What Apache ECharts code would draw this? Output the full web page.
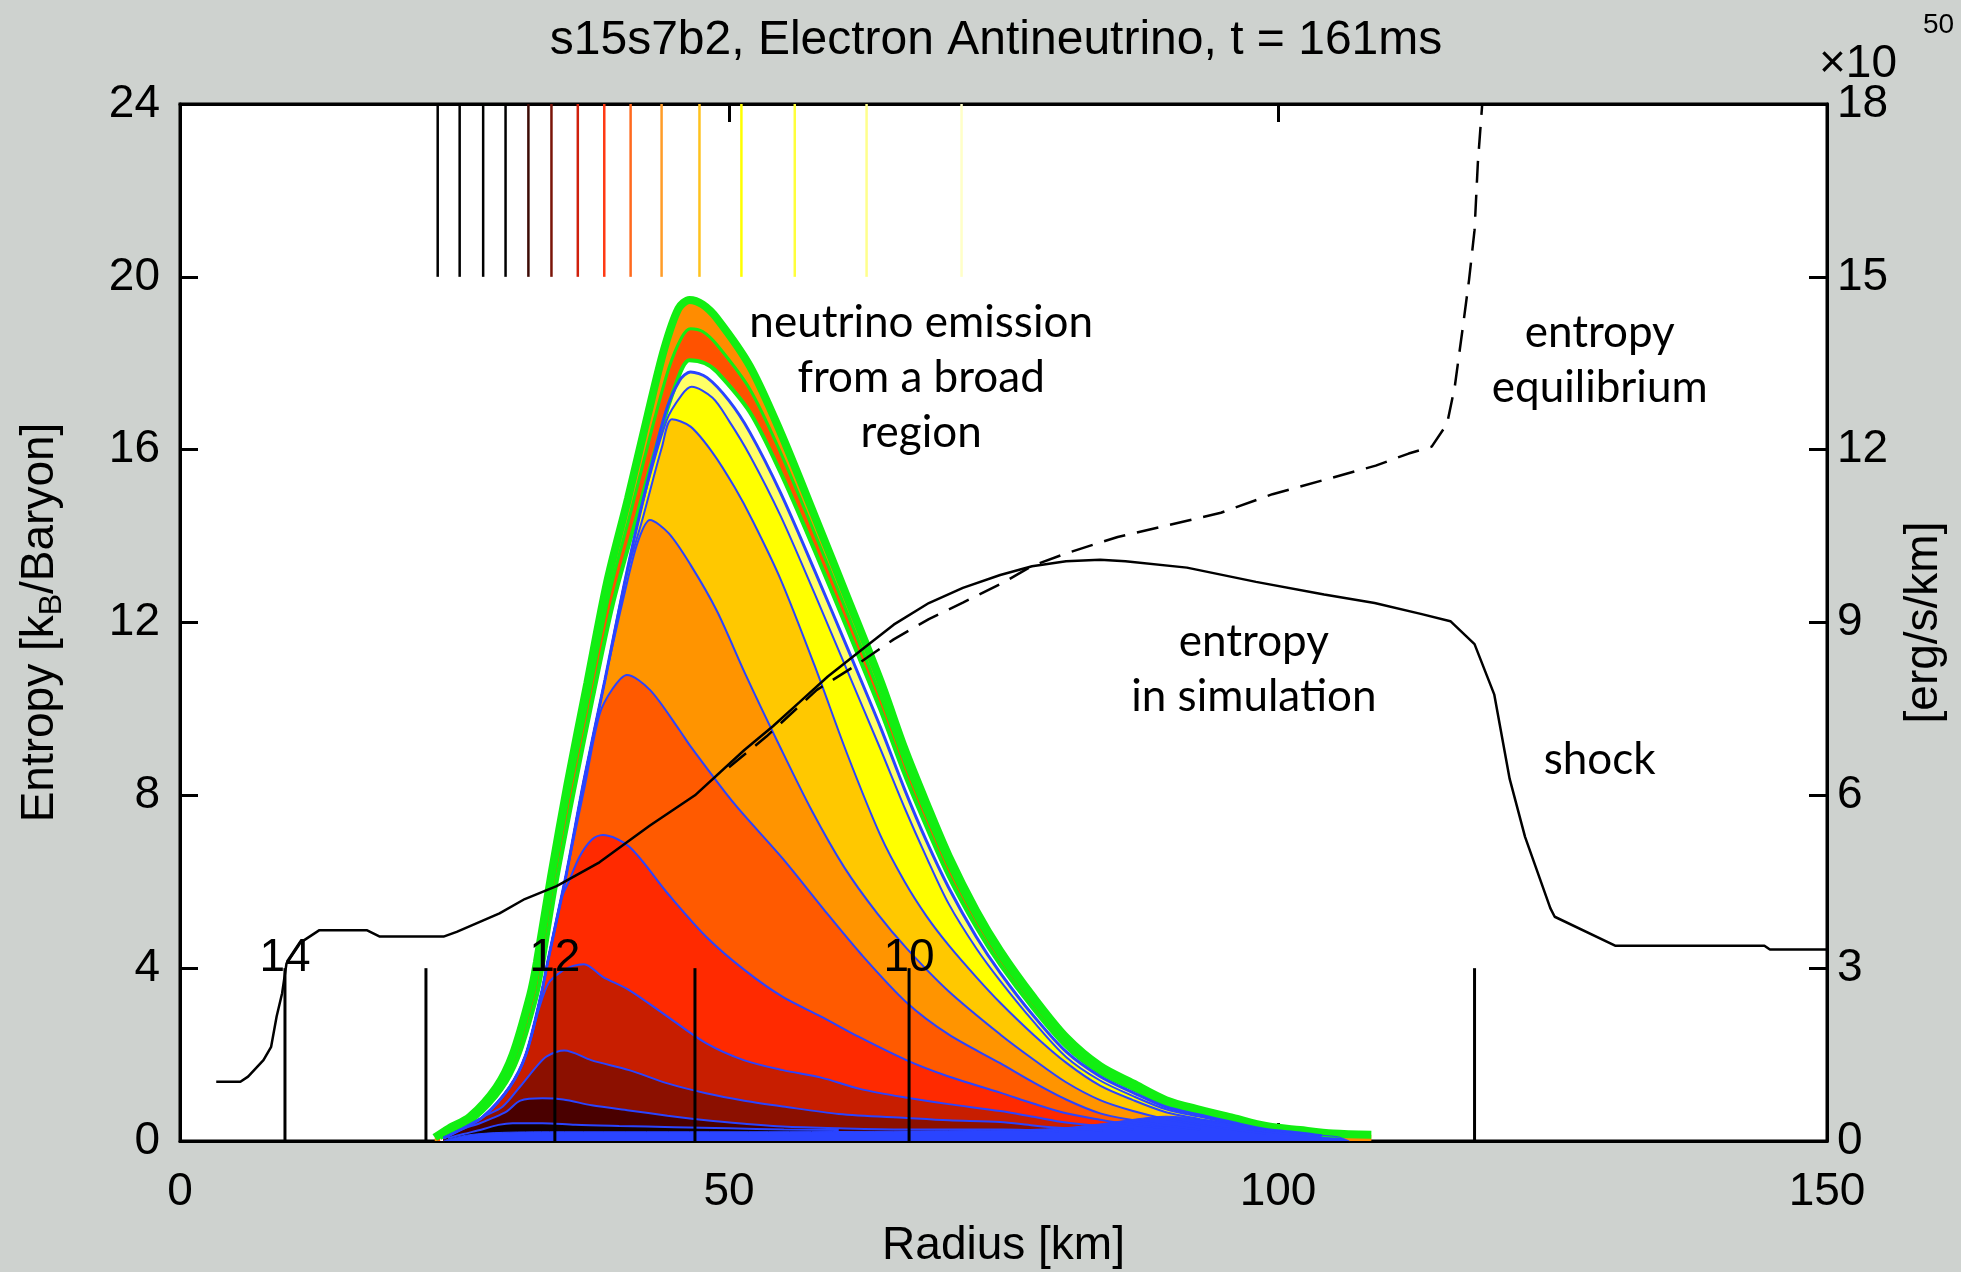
<!DOCTYPE html>
<html>
<head>
<meta charset="utf-8">
<script src="https://cdn.jsdelivr.net/npm/echarts@6/dist/echarts.min.js"></script>
<style>
  html, body { margin: 0; padding: 0; background: #ced2cf; }
  #chart { width: 1961px; height: 1272px; }
</style>
</head>
<body>
<div id="chart"></div>
<script>
// ---- axes -------------------------------------------------------------
const radiusTicks = [0, 50, 100, 150];          // km
const entropyTicks = [0, 4, 8, 12, 16, 20, 24]; // kB / baryon
const emissionTicks = [0, 3, 6, 9, 12, 15, 18]; // 10^50 erg/s/km

// ---- entropy profiles [radius km, entropy kB/baryon] -------------------
const entropySimulation = [
  [3.3,1.37],[5.5,1.37],[6.2,1.49],[7.6,1.87],[8.3,2.18],[8.8,2.88],[9.3,3.42],[9.7,4.11],
  [10.9,4.58],[12.7,4.88],[17.0,4.88],[18.2,4.73],[24.0,4.73],[25.2,4.84],[29.1,5.27],
  [31.4,5.6],[34.3,5.9],[38.2,6.45],[42.8,7.3],[46.9,8.0],[51.4,9.05],[54.0,9.6],
  [56.4,10.15],[59.0,10.75],[62.0,11.35],[65.0,11.95],[68.2,12.45],[71.3,12.8],[74.7,13.1],
  [77.6,13.3],[80.7,13.42],[83.8,13.45],[86.1,13.42],[91.7,13.27],[98.0,12.94],[104.2,12.65],
  [108.8,12.45],[113.0,12.2],[115.7,12.03],[117.9,11.5],[119.7,10.33],[121.1,8.38],
  [122.5,7.04],[124.8,5.39],[125.2,5.19],[130.7,4.52],[144.3,4.52],[144.8,4.43],[150.0,4.43]
];
const entropyEquilibrium = [
  [50.0,8.65],[53.4,9.36],[58.0,10.44],[61.5,11.0],[65.0,11.61],[68.2,12.08],[71.3,12.46],
  [75.1,12.94],[77.6,13.31],[80.7,13.6],[85.4,13.98],[90.1,14.26],[94.8,14.54],[99.5,14.97],
  [104.2,15.3],[108.9,15.63],[111.9,15.91],[114.0,16.07],[115.4,16.6],[116.1,17.46],
  [116.8,18.77],[117.4,19.93],[117.9,21.08],[118.2,22.63],[118.6,24.0]
];

// ---- cumulative emission boundaries [radius km, 10^50 erg/s/km] --------
const emTotal = [
  [23.2,0.06],[24.5,0.22],[26.4,0.42],[28.8,0.93],[30.3,1.5],[31.9,2.54],[32.5,3.1],[33.8,4.6],
  [35.3,6.2],[37.1,7.95],[38.9,9.7],[40.8,11.15],[42.6,12.6],[44.1,13.75],[45.4,14.45],[46.4,14.6],
  [47.6,14.52],[48.9,14.28],[51.9,13.45],[54.7,12.3],[57.8,10.85],[60.8,9.42],[63.8,7.98],
  [66.0,6.8],[68.0,5.85],[70.0,4.95],[72.5,4.0],[74.7,3.3],[77.7,2.5],[80.7,1.8],[83.8,1.3],
  [86.8,1.0],[89.8,0.71],[92.9,0.54],[95.9,0.4],[98.9,0.26],[102.0,0.19],[105.0,0.13],[108.5,0.11]
];
const emStripe = [
  [23.4,0.05],[24.7,0.2],[26.6,0.4],[29.0,0.9],[30.5,1.47],[32.1,2.5],[32.7,3.05],[34.0,4.55],
  [35.5,6.1],[37.3,7.8],[39.1,9.5],[41.1,10.95],[42.9,12.3],[44.5,13.4],[45.7,13.95],[46.5,14.1],
  [47.6,14.05],[48.9,13.82],[51.9,13.05],[54.7,11.95],[57.8,10.55],[60.8,9.15],[63.8,7.72],
  [66.0,6.58],[68.0,5.65],[70.0,4.78],[72.5,3.86],[74.7,3.18],[77.7,2.4],[80.7,1.72],[83.8,1.24],
  [86.8,0.95],[89.8,0.67],[92.9,0.51],[95.9,0.37],[98.9,0.24],[102.0,0.17],[105.0,0.11]
];
const emEdge = [
  [23.7,0.05],[25.0,0.2],[26.9,0.4],[29.3,0.9],[30.8,1.45],[32.4,2.45],[33.0,3.0],[34.3,4.5],
  [35.8,6.0],[37.6,7.7],[39.4,9.3],[41.4,10.7],[43.3,12.0],[45.0,13.05],[46.4,13.55],
  [47.8,13.5],[48.9,13.35],[51.9,12.65],[54.7,11.6],[57.8,10.25],[60.8,8.88],[63.8,7.48],
  [66.0,6.36],[68.0,5.45],[70.0,4.6],[72.5,3.72],[74.7,3.06],[77.7,2.3],[80.7,1.64],[83.8,1.18],
  [86.8,0.9],[89.8,0.63],[92.9,0.48],[95.9,0.35],[98.9,0.22],[102.0,0.16],[105.0,0.1]
];
const emBand1 = [
  [24.0,0.05],[25.6,0.2],[27.6,0.42],[30.0,0.93],[31.5,1.5],[32.9,2.55],[33.5,3.12],[35.2,4.65],
  [36.8,6.27],[38.7,8.0],[40.5,9.7],[41.9,10.9],[44.2,12.63],[45.5,13.2],[46.5,13.35],
  [48.0,13.25],[50.0,12.85],[51.9,12.3],[54.7,11.25],[57.8,9.9],[60.8,8.55],[63.8,7.18],
  [66.0,6.1],[68.0,5.2],[70.0,4.4],[72.5,3.55],[74.7,2.92],[77.7,2.18],[80.7,1.55],[83.8,1.12],
  [86.8,0.84],[89.8,0.59],[92.9,0.45],[95.9,0.32],[98.9,0.2],[102.0,0.14],[104.0,0.09]
];
const emBand2 = [
  [24.0,0.05],[25.6,0.2],[27.6,0.42],[30.0,0.93],[31.5,1.5],[32.9,2.55],[33.5,3.12],[35.2,4.65],
  [36.8,6.27],[38.7,8.0],[40.5,9.7],[41.9,10.9],[44.3,12.5],[45.7,12.95],[46.6,13.09],
  [48.5,12.9],[50.0,12.5],[51.9,11.9],[54.7,10.85],[57.8,9.5],[60.8,8.15],[63.8,6.8],
  [66.0,5.78],[68.0,4.92],[70.0,4.12],[72.5,3.35],[74.7,2.78],[77.7,2.08],[80.7,1.46],[83.8,1.05],
  [86.8,0.78],[89.8,0.55],[92.9,0.42],[95.9,0.3],[98.9,0.19],[102.0,0.12]
];
const emBand3 = [
  [24.0,0.05],[25.6,0.2],[27.6,0.42],[30.0,0.93],[31.5,1.5],[32.9,2.55],[33.5,3.12],[35.2,4.65],
  [36.8,6.27],[38.7,8.0],[40.5,9.7],[42.2,10.85],[43.9,12.05],[44.8,12.53],[46.5,12.4],
  [48.5,11.95],[50.5,11.35],[52.2,10.75],[54.7,9.75],[57.8,8.25],[60.8,6.7],[63.8,5.3],
  [66.0,4.5],[68.0,3.9],[70.0,3.4],[72.5,2.85],[74.7,2.4],[77.7,1.85],[80.7,1.36],[83.8,0.96],
  [86.8,0.71],[89.8,0.5],[92.9,0.38],[95.9,0.27],[98.9,0.17],[102.0,0.1]
];
const emBand4 = [
  [24.0,0.05],[25.6,0.2],[27.6,0.42],[30.0,0.93],[31.5,1.5],[32.9,2.55],[33.5,3.12],[35.2,4.65],
  [36.8,6.27],[38.7,8.0],[40.6,9.6],[41.7,10.4],[42.8,10.78],[44.5,10.55],[46.5,10.0],
  [48.9,9.2],[51.5,8.1],[54.5,6.9],[57.5,5.75],[60.5,4.75],[63.5,3.95],[66.2,3.34],[70.0,2.6],
  [74.7,1.85],[77.7,1.42],[80.7,1.02],[83.8,0.71],[86.8,0.52],[89.8,0.38],[92.9,0.28],[95.9,0.2],
  [98.9,0.13]
];
const emBand5 = [
  [24.0,0.05],[25.6,0.2],[27.6,0.42],[30.0,0.93],[31.5,1.5],[32.9,2.55],[33.5,3.12],[35.2,4.65],
  [36.8,6.1],[38.2,7.4],[39.4,7.85],[40.7,8.09],[42.8,7.83],[45.5,7.13],[46.5,6.85],[50.5,5.85],
  [54.9,4.9],[58.5,4.05],[62.0,3.25],[66.2,2.4],[70.0,1.85],[74.7,1.35],[77.7,1.02],[80.7,0.72],
  [83.8,0.48],[86.8,0.36],[89.8,0.27],[92.9,0.2]
];
const emBand6 = [
  [24.0,0.05],[25.6,0.2],[27.6,0.42],[30.0,0.93],[31.5,1.5],[32.9,2.55],[33.5,3.12],[34.7,4.19],
  [35.4,4.5],[36.4,4.94],[37.5,5.23],[38.5,5.31],[40.9,5.11],[44.4,4.3],[47.9,3.55],[51.4,2.97],
  [54.9,2.5],[58.4,2.16],[61.8,1.81],[66.2,1.4],[70.0,1.12],[74.7,0.84],[77.7,0.65],[80.7,0.48],
  [83.8,0.37],[86.8,0.28],[89.8,0.22]
];
const emBand7 = [
  [24.0,0.05],[25.6,0.2],[27.6,0.42],[30.0,0.93],[31.5,1.5],[32.7,2.3],[33.6,2.75],[34.8,2.95],
  [35.8,3.04],[36.8,3.07],[38.5,2.85],[40.9,2.62],[44.4,2.16],[47.9,1.7],[51.4,1.4],[54.9,1.23],
  [58.4,1.1],[62.0,0.9],[66.2,0.75],[70.0,0.64],[74.7,0.52],[77.7,0.42],[80.7,0.32],[83.8,0.26],
  [86.8,0.2]
];
const emBand8 = [
  [24.0,0.05],[25.6,0.2],[27.6,0.42],[29.4,0.6],[31.0,0.95],[32.5,1.3],[33.4,1.47],[35.0,1.57],
  [37.5,1.4],[40.9,1.23],[44.4,1.0],[47.9,0.83],[51.4,0.7],[54.9,0.6],[60.0,0.47],[66.2,0.4],
  [70.0,0.36],[74.7,0.33],[77.7,0.27],[80.7,0.22],[84.0,0.18]
];
const emBand9 = [
  [24.0,0.05],[25.6,0.2],[27.2,0.3],[28.5,0.4],[29.8,0.52],[31.0,0.7],[33.0,0.74],[34.9,0.72],
  [37.5,0.62],[40.9,0.53],[44.4,0.44],[47.9,0.36],[51.4,0.3],[54.9,0.25],[60.0,0.22],[66.0,0.2],
  [75.0,0.2],[80.0,0.17]
];
const emBand10 = [
  [24.4,0.05],[25.8,0.12],[27.5,0.2],[29.0,0.28],[30.3,0.31],[33.0,0.31],[36.0,0.28],[40.0,0.26],
  [45.0,0.24],[50.0,0.22],[55.0,0.2],[60.0,0.19]
];
const emBase = [
  [24.0,0.0],[24.6,0.04],[26.4,0.11],[29.4,0.15],[35.0,0.16],[50.0,0.16],[65.0,0.17],[75.0,0.19],
  [80.0,0.22],[84.0,0.3],[87.0,0.38],[89.8,0.43],[92.9,0.38],[95.9,0.3],[98.9,0.19],[102.0,0.14],
  [104.0,0.1],[105.5,0.07],[106.5,0.0]
];

// ---- energy-group colour key along the top (radius km) -----------------
const keyRadii = [23.47, 25.47, 27.61, 29.65, 31.73, 33.83, 36.23, 38.64, 41.04, 43.86, 47.31, 51.13, 55.99, 62.53, 71.18];
const keyRange = [20, 24];

// ---- density markers: radius km, marker height, log10 density label ----
const markerRadii = [9.56, 22.4, 34.14, 46.9, 66.4, 117.9];
const markerTop = 4;
const markerLabels = ['14', '', '12', '', '10', ''];

// ---- annotations [radius km, entropy] ----------------------------------
const notePos = [[67.5, 17.66], [129.3, 18.06], [97.8, 10.92], [129.3, 8.82]];
const noteText = ['neutrino emission\nfrom a broad\nregion', 'entropy\nequilibrium', 'entropy\nin simulation', 'shock'];

// ---- styling ------------------------------------------------------------
const FONT = '"Liberation Sans", Arial, Helvetica, sans-serif';
const NOTE_FONT = 'Lato, "Open Sans", sans-serif';
const BLUE = '#2a44ff';
const GREEN = '#12ee12';
const keyColors = ['#000000','#000000','#000000','#000000','#3c0a05','#7a1408','#d0200c','#ff3a14',
                   '#ff6a1e','#ff9c28','#ffc21e','#ffff00','#ffff3c','#ffff8c','#ffffc8'];

function band(data, fill, edge, width) {
  return {
    type: 'line', xAxisIndex: 0, yAxisIndex: 1, data: data,
    symbol: 'none', showSymbol: false, smooth: 0.3, silent: true,
    lineStyle: { color: edge, width: width },
    areaStyle: { color: fill, opacity: 1 }
  };
}

function ticks() { return { show: true, inside: true, length: 18, lineStyle: { color: '#000', width: 3 } }; }
function frameLine() { return { show: true, onZero: false, lineStyle: { color: '#000', width: 3 } }; }
const labelStyle = { color: '#000', fontSize: 46, fontFamily: FONT };

const chart = echarts.init(document.getElementById('chart'), null, { renderer: 'canvas' });

chart.setOption({
  animation: false,
  backgroundColor: '#ced2cf',
  grid: { left: 180, right: 134, top: 104, bottom: 131, containLabel: false, outerBoundsMode: 'none',
          show: true, backgroundColor: '#ffffff', borderColor: '#000', borderWidth: 3 },
  xAxis: [
    { type: 'value', min: radiusTicks[0], max: radiusTicks[radiusTicks.length - 1], interval: 50,
      position: 'bottom', name: 'Radius [km]', nameLocation: 'middle', nameGap: 82,
      nameTextStyle: { color: '#000', fontSize: 46, fontFamily: FONT },
      axisLine: frameLine(), axisTick: ticks(), splitLine: { show: false },
      axisLabel: Object.assign({ margin: 28 }, labelStyle) },
    { type: 'value', min: radiusTicks[0], max: radiusTicks[radiusTicks.length - 1], interval: 50,
      position: 'top', axisLine: frameLine(), axisTick: ticks(),
      axisLabel: { show: false }, splitLine: { show: false } }
  ],
  yAxis: [
    { type: 'value', min: entropyTicks[0], max: entropyTicks[entropyTicks.length - 1], interval: 4,
      position: 'left', name: 'Entropy [k{sub|B}/Baryon]', nameLocation: 'middle', nameRotate: 90, nameGap: 112,
      nameTextStyle: { color: '#000', fontSize: 46, fontFamily: FONT, lineHeight: 56,
        rich: { sub: { fontSize: 32, fontFamily: FONT, color: '#000', verticalAlign: 'bottom', lineHeight: 44 } } },
      axisLine: frameLine(), axisTick: ticks(), splitLine: { show: false },
      axisLabel: Object.assign({ margin: 20 }, labelStyle) },
    { type: 'value', min: emissionTicks[0], max: emissionTicks[emissionTicks.length - 1], interval: 3,
      position: 'right', name: '[erg/s/km]', nameLocation: 'middle', nameRotate: 90, nameGap: 74,
      nameTextStyle: { color: '#000', fontSize: 46, fontFamily: FONT },
      axisLine: frameLine(), axisTick: ticks(), splitLine: { show: false },
      axisLabel: Object.assign({ margin: 10 }, labelStyle) }
  ],
  graphic: [
    { type: 'text', x: 996, y: 41, silent: true,
      style: { text: 's15s7b2, Electron Antineutrino, t = 161ms', fill: '#000',
               font: '48px ' + FONT, align: 'center', verticalAlign: 'middle' } },
    { type: 'text', x: 1819, y: 64, silent: true,
      style: { text: '×10', fill: '#000', font: '46px ' + FONT, align: 'left', verticalAlign: 'middle' } },
    { type: 'text', x: 1923, y: 25, silent: true,
      style: { text: '50', fill: '#000', font: '28px ' + FONT, align: 'left', verticalAlign: 'middle' } }
  ],
  series: [
    band(emTotal,  '#ff8c00', GREEN, 8),
    band(emStripe, '#ff5200', GREEN, 3),
    band(emEdge,   '#ffffff', GREEN, 4),
    band(emBand1,  '#ffff66', BLUE, 3),
    band(emBand2,  '#ffff00', BLUE, 2),
    band(emBand3,  '#ffc800', BLUE, 2),
    band(emBand4,  '#ff9400', BLUE, 2),
    band(emBand5,  '#ff5a00', BLUE, 2),
    band(emBand6,  '#ff2a00', BLUE, 2),
    band(emBand7,  '#c81e00', BLUE, 2),
    band(emBand8,  '#8c1000', BLUE, 2),
    band(emBand9,  '#4a0000', BLUE, 2),
    band(emBand10, '#140000', BLUE, 2),
    band(emBase,   BLUE, BLUE, 1),
    { type: 'line', xAxisIndex: 0, yAxisIndex: 0, data: entropySimulation, symbol: 'none',
      showSymbol: false, silent: true, lineStyle: { color: '#000', width: 2.5 }, z: 4 },
    { type: 'line', xAxisIndex: 0, yAxisIndex: 0, data: entropyEquilibrium, symbol: 'none',
      showSymbol: false, silent: true, lineStyle: { color: '#000', width: 2.5, type: [22, 12] }, z: 4 },
    { type: 'custom', xAxisIndex: 0, yAxisIndex: 0, silent: true, z: 5,
      data: keyRadii.map(function (r) { return [r, keyRange[0], keyRange[1]]; }),
      renderItem: function (params, api) {
        const a = api.coord([api.value(0), api.value(1)]);
        const b = api.coord([api.value(0), api.value(2)]);
        return { type: 'line', shape: { x1: a[0], y1: a[1], x2: b[0], y2: b[1] },
                 style: { stroke: keyColors[params.dataIndex], lineWidth: 2.5 } };
      } },
    { type: 'custom', xAxisIndex: 0, yAxisIndex: 0, silent: true, z: 6,
      data: markerRadii.map(function (r) { return [r, markerTop]; }),
      renderItem: function (params, api) {
        const base = api.coord([api.value(0), 0]);
        const top = api.coord([api.value(0), api.value(1)]);
        const children = [{ type: 'line', shape: { x1: base[0], y1: base[1], x2: top[0], y2: top[1] },
                            style: { stroke: '#000', lineWidth: 3 } }];
        const txt = markerLabels[params.dataIndex];
        if (txt) {
          children.push({ type: 'text', x: top[0], y: top[1] - 10,
            style: { text: txt, fill: '#000', font: '46px ' + FONT, align: 'center', verticalAlign: 'middle' } });
        }
        return { type: 'group', children: children };
      } },
    { type: 'custom', xAxisIndex: 0, yAxisIndex: 0, silent: true, z: 7,
      data: notePos,
      renderItem: function (params, api) {
        const p = api.coord([api.value(0), api.value(1)]);
        return { type: 'text', x: p[0], y: p[1],
          style: { text: noteText[params.dataIndex], fill: '#000', font: '44px ' + NOTE_FONT,
                   align: 'center', verticalAlign: 'middle', lineHeight: 55 } };
      } }
  ]
});
</script>
</body>
</html>
